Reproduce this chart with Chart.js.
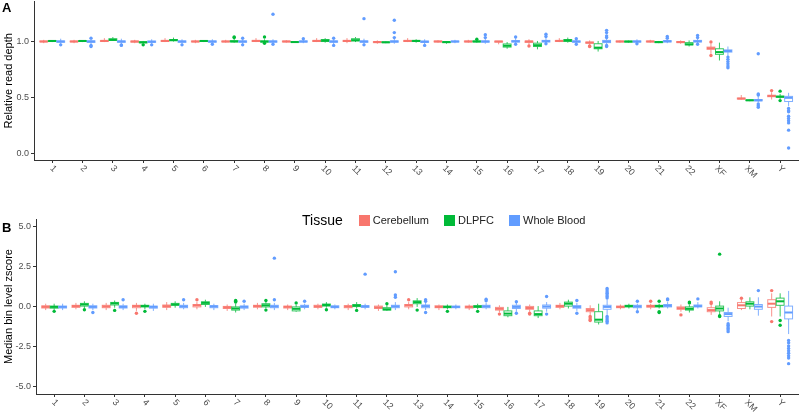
<!DOCTYPE html>
<html>
<head>
<meta charset="utf-8">
<script src="https://cdn.jsdelivr.net/npm/chart.js@4.4.1/dist/chart.umd.min.js"></script>
<style>
  body { margin: 0; background: #fff; width: 800px; height: 415px; position: relative; overflow: hidden;
         font-family: Arial, "Liberation Sans", sans-serif; }
  canvas { position: absolute; left: 0; }
  #chartA { top: 0; }
  #chartB { top: 200px; }
  .tag { position: absolute; left: 2px; font-weight: bold; font-size: 13px; color: #000; }
  #legend { position: absolute; top: 211px; left: 302px; height: 18px; display: flex; align-items: center;
            font-size: 11px; color: #222; }
  #legend .ttl { font-size: 14px; margin-right: 16px; color: #000; }
  #legend .key { width: 11px; height: 11px; margin-right: 3px; }
  #legend .lab { margin-right: 15px; }
</style>
</head>
<body>
<canvas id="chartA" width="800" height="180"></canvas>
<canvas id="chartB" width="800" height="215"></canvas>
<div class="tag" style="top:0px">A</div>
<div class="tag" style="top:220px">B</div>
<div id="legend"></div>
<script>
// chromosome categories
var categories = ['1','2','3','4','5','6','7','8','9','10','11','12','13','14','15','16','17','18','19','20','21','22','XF','XM','Y'];
var tissues = ['Cerebellum', 'DLPFC', 'Whole Blood'];
var colors = ['#F8766D', '#00BA38', '#619CFF'];
var boxLines = ['rgba(248,118,109,0.8)', 'rgba(0,186,56,0.8)', 'rgba(97,156,255,0.8)'];

// panel A: relative read depth, [lower whisker, q1, median, q3, upper whisker]
var depthCerebellum = [
  [0.985,0.997,1.0,1.004,1.015],[0.985,0.997,1.0,1.004,1.015],[0.995,1.0,1.005,1.01,1.03],[0.985,0.995,1.0,1.004,1.015],
  [0.995,1.0,1.005,1.01,1.03],[0.985,0.997,1.0,1.004,1.015],[0.99,0.997,1.0,1.004,1.015],[0.995,1.0,1.005,1.01,1.03],
  [0.99,0.997,1.0,1.004,1.012],[0.995,1.0,1.005,1.01,1.03],[0.985,1.0,1.005,1.01,1.03],[0.98,0.99,0.995,1.0,1.01],
  [0.995,1.0,1.005,1.01,1.03],[0.99,0.997,1.0,1.004,1.012],[0.99,0.997,1.0,1.004,1.015],[0.975,0.995,1.0,1.003,1.005],
  [0.97,0.992,1.0,1.004,1.02],[0.995,1.0,1.005,1.01,1.03],[0.97,0.985,0.99,0.995,1.01],[0.99,0.997,1.0,1.004,1.01],
  [0.99,0.997,1.0,1.004,1.015],[0.98,0.99,0.995,1.0,1.01],[0.89,0.93,0.94,0.95,0.98],[0.48,0.485,0.488,0.493,0.52],
  [0.48,0.505,0.512,0.518,0.545]
];
var depthDLPFC = [
  [0.995,1.0,1.005,1.008,1.012],[0.995,1.0,1.005,1.008,1.012],[1.005,1.01,1.015,1.025,1.04],[0.975,0.988,0.993,0.998,1.005],
  [1.0,1.008,1.012,1.018,1.035],[0.995,1.0,1.005,1.008,1.012],[0.99,0.998,1.0,1.008,1.025],[0.985,0.995,1.0,1.005,1.02],
  [0.99,0.993,0.995,0.998,1.002],[0.99,1.0,1.008,1.018,1.03],[0.995,1.005,1.012,1.025,1.04],[0.985,0.99,0.993,0.996,1.0],
  [0.99,1.0,1.005,1.01,1.02],[0.98,0.99,0.995,0.998,1.002],[0.99,0.997,1.0,1.005,1.015],[0.935,0.95,0.962,0.978,0.995],
  [0.93,0.955,0.967,0.985,1.005],[0.99,1.0,1.01,1.018,1.035],[0.91,0.935,0.945,0.98,1.005],[0.99,0.995,1.0,1.003,1.008],
  [0.985,0.99,0.995,0.998,1.005],[0.955,0.97,0.975,0.99,1.01],[0.83,0.885,0.905,0.935,0.99],[0.465,0.47,0.473,0.476,0.48],
  [0.485,0.5,0.505,0.51,0.53]
];
var depthWholeBlood = [
  [0.975,0.993,1.0,1.005,1.025],[0.97,0.992,1.0,1.006,1.025],[0.975,0.993,1.0,1.005,1.025],[0.975,0.993,0.998,1.004,1.02],
  [0.975,0.993,1.0,1.005,1.02],[0.98,0.994,1.0,1.005,1.02],[0.975,0.993,1.0,1.005,1.025],[0.98,0.994,1.0,1.005,1.02],
  [0.985,0.995,1.0,1.005,1.02],[0.975,0.993,1.0,1.005,1.025],[0.975,0.993,1.0,1.005,1.025],[0.98,0.994,1.0,1.006,1.025],
  [0.97,0.992,0.998,1.004,1.02],[0.985,0.996,1.0,1.004,1.015],[0.98,0.994,1.0,1.005,1.025],[0.98,0.995,1.002,1.008,1.03],
  [0.985,0.996,1.003,1.01,1.035],[0.98,0.994,1.0,1.005,1.02],[0.97,0.99,1.0,1.01,1.03],[0.985,0.995,1.0,1.005,1.02],
  [0.985,0.996,1.002,1.008,1.025],[0.985,0.996,1.002,1.01,1.03],[0.87,0.905,0.915,0.925,0.955],[0.455,0.468,0.473,0.48,0.51],
  [0.42,0.462,0.495,0.508,0.54]
];
var depthOutCerebellum = [[],[],[],[],[],[],[],[],[],[],[],[],[],[],[],[],[0.96],[],[0.96,0.955],[],[],[],[0.995,0.875],[],[0.56]];
var depthOutDLPFC = [[],[],[],[0.97],[],[],[1.04,1.035],[1.04,0.985],[],[],[],[],[],[],[1.02],[],[],[],[],[],[],[],[],[],[0.555,0.47]];
var depthOutWholeBlood = [[0.97],[0.955,1.03,0.965],[0.965,0.97],[0.97],[0.97],[0.975],[0.97,1.03],[1.245,0.975],[1.025],
  [0.965,1.03],[1.205,0.97],[1.19,1.08,1.035],[0.965],[],[1.06,1.035],[1.04,0.975],[1.065,1.045,0.98],[0.975,1.025],
  [1.1,1.08,1.05,1.035,0.955,0.965],[0.98],[1.045,1.03],[1.055,1.035,0.975],[0.86,0.84,0.82,0.8,0.78,0.765],
  [0.44,0.425,0.41,0.52,0.53,0.89],[0.4,0.38,0.37,0.33,0.31,0.29,0.27,0.205,0.045]];

// panel B: median bin level zscore
var zscoreCerebellum = [
  [-0.2,-0.07,0,0.07,0.2],[-0.15,-0.03,0.05,0.1,0.25],[-0.2,-0.05,0.03,0.1,0.25],[-0.25,-0.05,0.05,0.1,0.25],
  [-0.2,-0.03,0.05,0.12,0.3],[-0.15,0,0.1,0.15,0.3],[-0.25,-0.1,-0.03,0.03,0.15],[-0.15,-0.02,0.05,0.1,0.25],
  [-0.2,-0.07,0,0.05,0.15],[-0.15,-0.03,0.03,0.1,0.2],[-0.2,-0.05,0.02,0.08,0.2],[-0.25,-0.1,-0.03,0.05,0.15],
  [-0.15,0,0.1,0.15,0.3],[-0.2,-0.05,0,0.07,0.15],[-0.2,-0.07,0,0.05,0.15],[-0.35,-0.2,-0.12,-0.03,0.1],
  [-0.3,-0.15,-0.07,0.03,0.15],[-0.15,-0.03,0.05,0.1,0.25],[-0.5,-0.3,-0.2,-0.1,0.1],[-0.15,-0.05,0,0.05,0.15],
  [-0.15,-0.02,0.05,0.1,0.2],[-0.3,-0.15,-0.08,0,0.15],[-0.5,-0.3,-0.2,-0.05,0.15],[-0.2,-0.1,0.1,0.27,0.45],
  [-0.6,-0.03,0.2,0.45,0.85]
];
var zscoreDLPFC = [
  [-0.2,-0.08,0,0.05,0.2],[-0.1,0.05,0.15,0.22,0.35],[-0.05,0.12,0.22,0.28,0.4],[-0.15,0,0.05,0.1,0.2],
  [-0.05,0.1,0.15,0.22,0.35],[0,0.15,0.25,0.32,0.45],[-0.35,-0.2,-0.1,0,0.2],[-0.1,0,0.1,0.2,0.3],
  [-0.3,-0.25,-0.12,0,0.15],[-0.05,0.05,0.12,0.18,0.3],[-0.1,0.02,0.08,0.15,0.3],[-0.25,-0.2,-0.15,-0.05,0.1],
  [0,0.2,0.3,0.38,0.55],[-0.15,-0.05,0,0.05,0.15],[-0.15,-0.03,0.02,0.08,0.2],[-0.65,-0.55,-0.42,-0.25,0],
  [-0.7,-0.55,-0.45,-0.25,0.05],[-0.1,0.05,0.2,0.3,0.45],[-1.1,-0.95,-0.8,-0.3,0.2],[-0.1,0,0.05,0.1,0.2],
  [-0.1,0,0.05,0.1,0.2],[-0.35,-0.2,-0.12,0,0.15],[-0.5,-0.25,-0.1,0.05,0.35],[-0.15,0.05,0.2,0.32,0.6],
  [-0.6,0.1,0.35,0.55,0.85]
];
var zscoreWholeBlood = [
  [-0.2,-0.07,0,0.05,0.2],[-0.2,-0.07,0,0.07,0.2],[-0.2,-0.07,0,0.07,0.2],[-0.25,-0.08,0,0.05,0.2],
  [-0.15,-0.05,0.03,0.1,0.25],[-0.2,-0.05,0.03,0.08,0.2],[-0.2,-0.08,0,0.06,0.2],[-0.2,-0.05,0.03,0.1,0.25],
  [-0.15,-0.03,0.03,0.1,0.2],[-0.15,-0.05,0,0.07,0.15],[-0.15,-0.03,0.03,0.08,0.2],[-0.2,-0.05,0.03,0.1,0.3],
  [-0.2,-0.05,0.05,0.12,0.3],[-0.15,-0.05,0,0.05,0.15],[-0.15,-0.05,0.03,0.1,0.25],[-0.3,-0.1,0,0.1,0.25],
  [-0.3,-0.08,0.02,0.12,0.3],[-0.25,-0.08,0,0.08,0.25],[-0.5,-0.15,0,0.1,0.45],[-0.2,-0.05,0.03,0.1,0.2],
  [-0.1,0,0.07,0.15,0.3],[-0.1,0,0.05,0.12,0.3],[-0.9,-0.6,-0.45,-0.35,-0.05],[-0.55,-0.15,0.02,0.15,0.6],
  [-1.7,-0.75,-0.35,0.05,1.0]
];
var zscoreOutCerebellum = [[],[],[],[-0.4],[],[0.45],[],[],[],[],[],[],[0.45],[],[],[-0.45],[-0.45,-0.4],[],
  [-0.6,-0.7,-0.8,-0.85],[],[0.35],[-0.5],[0.3,0.22],[0.54],[1.02,-0.92]];
var zscoreOutDLPFC = [[-0.28],[-0.18],[-0.22],[-0.28],[],[],[0.3,0.35,0.4],[0.4,-0.2],[0.25],[-0.18],[-0.22],[0.2],[-0.2],
  [-0.28],[-0.28],[],[],[],[],[],[0.35,-0.3,-0.35],[0.25,0.3],[-0.55,-0.6,3.3],[],[-0.85,-1.15]];
var zscoreOutWholeBlood = [[],[-0.35],[0.45],[],[0.45],[],[0.35],[0.45,3.05],[0.35],[],[2.05],[0.6,0.75,2.2],
  [0.35,0.45,-0.35],[],[0.38,0.48],[0.32,-0.4],[0.65,-0.45],[0.4,-0.4],
  [0.55,0.65,0.75,0.85,0.95,1.05,1.15,-0.6,-0.7,-0.8,-0.9,-1.0],[-0.3,0.35],[0.45,0.5],[0.5],
  [-1.05,-1.15,-1.25,-1.35,-1.45,-1.55],[1.02],[-2.1,-2.25,-2.45,-2.6,-2.75,-2.9,-3.05,-3.2,-3.55]];

var depthTicks = [0.0, 0.5, 1.0];
var zscoreTicks = [-5.0, -2.5, 0.0, 2.5, 5.0];

var offsets = [-0.28, 0, 0.28];
var boxWidth = 0.26;

// legend
var leg = document.getElementById('legend');
leg.innerHTML = '<span class="ttl">Tissue</span>' + tissues.map(function (t, k) {
  return '<span class="key" style="background:' + colors[k] + '"></span><span class="lab">' + t + '</span>';
}).join('');

function outlierPoints(list, k) {
  var pts = [];
  list.forEach(function (vals, i) {
    vals.forEach(function (v) { pts.push({ x: i + 1 + offsets[k], y: v }); });
  });
  return pts;
}

// draws boxes/whiskers/medians from the stats arrays through the chart scales
var boxPlugin = {
  id: 'boxes',
  beforeDatasetsDraw: function (chart, args, opts) {
    var ctx = chart.ctx, x = chart.scales.x, y = chart.scales.y;
    var hw = (x.getPixelForValue(1 + boxWidth / 2) - x.getPixelForValue(1));
    opts.sets.forEach(function (set, k) {
      set.forEach(function (s, i) {
        var cx = x.getPixelForValue(i + 1 + offsets[k]);
        var lo = y.getPixelForValue(s[0]), q1 = y.getPixelForValue(s[1]), md = y.getPixelForValue(s[2]),
            q3 = y.getPixelForValue(s[3]), hi = y.getPixelForValue(s[4]);
        ctx.save();
        ctx.strokeStyle = boxLines[k];
        ctx.lineWidth = 1;
        ctx.beginPath();
        ctx.moveTo(cx, hi); ctx.lineTo(cx, q3);
        ctx.moveTo(cx, q1); ctx.lineTo(cx, lo);
        ctx.stroke();
        ctx.fillStyle = '#fff';
        ctx.fillRect(cx - hw, q3, hw * 2, q1 - q3);
        ctx.strokeRect(cx - hw, q3, hw * 2, q1 - q3);
        ctx.strokeStyle = colors[k];
        ctx.lineWidth = 2;
        ctx.beginPath();
        ctx.moveTo(cx - hw, md); ctx.lineTo(cx + hw, md);
        ctx.stroke();
        ctx.restore();
      });
    });
  },
  afterDraw: function (chart) {
    // rotated category labels under the x axis
    var ctx = chart.ctx, x = chart.scales.x, bottom = chart.chartArea.bottom;
    ctx.save();
    ctx.font = '9px Arial, "Liberation Sans", sans-serif';
    ctx.fillStyle = '#4d4d4d';
    ctx.textAlign = 'center';
    ctx.textBaseline = 'middle';
    categories.forEach(function (c, i) {
      var w = ctx.measureText(c).width;
      ctx.save();
      ctx.translate(x.getPixelForValue(i + 1) + 1, bottom + 7 + w * 0.35);
      ctx.rotate(Math.PI / 4);
      ctx.fillText(c, 0, 0);
      ctx.restore();
    });
    ctx.restore();
  }
};

function makePanel(id, sets, outs, yMin, yMax, yTicks, yTitle, padTop, xH, yW) {
  return new Chart(document.getElementById(id), {
    type: 'scatter',
    data: {
      datasets: tissues.map(function (t, k) {
        return { label: t, data: outlierPoints(outs[k], k), backgroundColor: colors[k],
                 borderWidth: 0, pointRadius: 1.7, pointHoverRadius: 1.7 };
      })
    },
    options: {
      responsive: false,
      animation: false,
      events: [],
      layout: { padding: { top: padTop, right: 1, left: 0, bottom: 0 } },
      plugins: { legend: { display: false }, tooltip: { enabled: false }, boxes: { sets: sets } },
      scales: {
        x: {
          type: 'linear', min: 0.4, max: 25.6,
          afterBuildTicks: function (s) { s.ticks = categories.map(function (c, i) { return { value: i + 1 }; }); },
          afterFit: function (s) { s.height = xH; s.paddingLeft = 0; s.paddingRight = 0; },
          ticks: { display: false },
          grid: { display: true, drawOnChartArea: false, tickLength: 3, color: '#333' },
          border: { display: true, color: '#333', width: 1 }
        },
        y: {
          min: yMin, max: yMax,
          afterBuildTicks: function (s) { s.ticks = yTicks.map(function (v) { return { value: v }; }); },
          afterFit: function (s) { s.width = yW; s.paddingTop = 0; s.paddingBottom = 0; },
          ticks: { callback: function (v) { return v.toFixed(1); }, color: '#4d4d4d', padding: 2,
                   font: { size: 9, family: 'Arial, "Liberation Sans", sans-serif' } },
          title: { display: true, text: yTitle, color: '#000', padding: { top: 2, bottom: 0 },
                   font: { size: 11, family: 'Arial, "Liberation Sans", sans-serif' } },
          grid: { display: true, drawOnChartArea: false, tickLength: 3, color: '#333' },
          border: { display: true, color: '#333', width: 1 }
        }
      }
    },
    plugins: [boxPlugin]
  });
}

makePanel('chartA', [depthCerebellum, depthDLPFC, depthWholeBlood],
  [depthOutCerebellum, depthOutDLPFC, depthOutWholeBlood],
  -0.0625, 1.357, depthTicks, 'Relative read depth', 1, 20, 34);

makePanel('chartB', [zscoreCerebellum, zscoreDLPFC, zscoreWholeBlood],
  [zscoreOutCerebellum, zscoreOutDLPFC, zscoreOutWholeBlood],
  -5.45, 5.5, zscoreTicks, 'Median bin level zscore', 19, 21, 36);
</script>
</body>
</html>
